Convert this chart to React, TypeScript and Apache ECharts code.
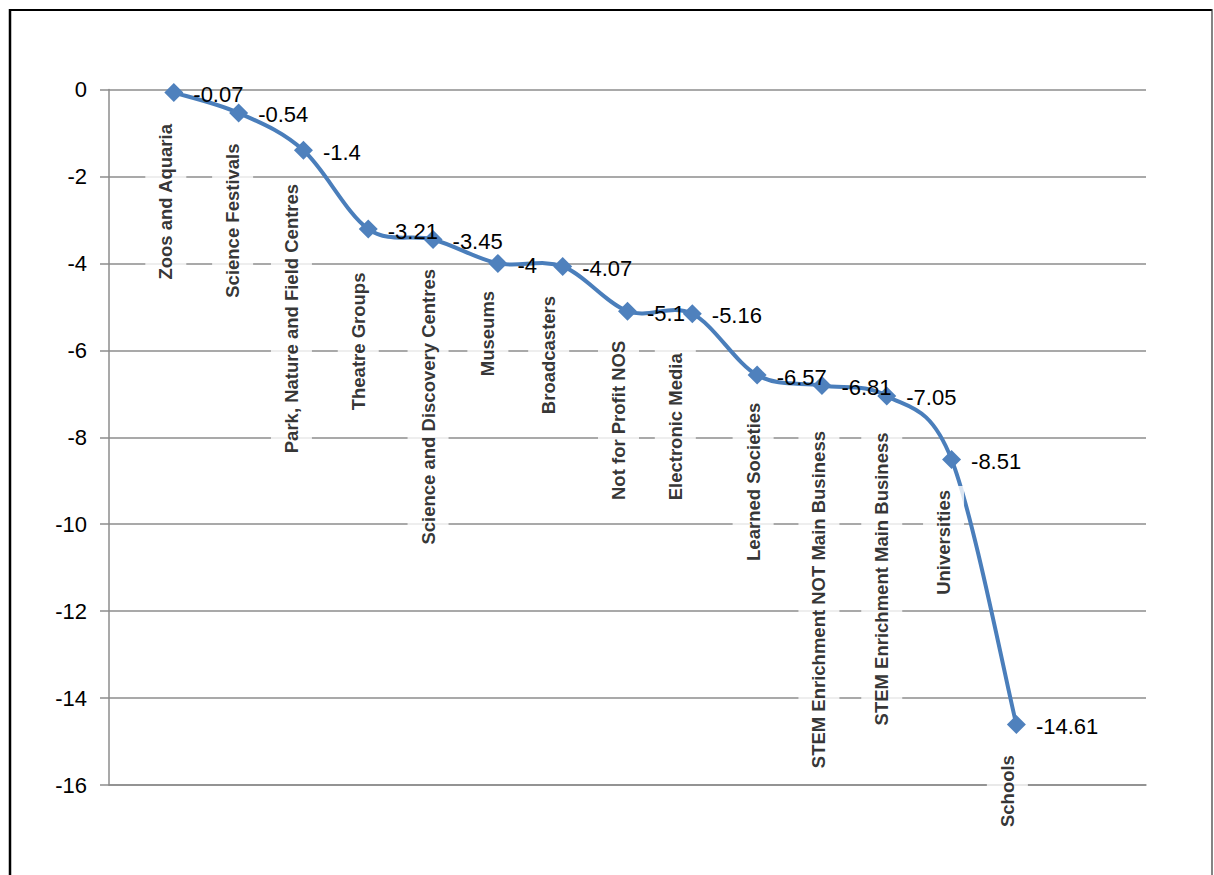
import React, { useEffect, useRef } from "react";
import * as echarts from "echarts";

const categories: string[] = [
  "Zoos and Aquaria",
  "Science Festivals",
  "Park, Nature and Field Centres",
  "Theatre Groups",
  "Science and Discovery Centres",
  "Museums",
  "Broadcasters",
  "Not for Profit NOS",
  "Electronic Media",
  "Learned Societies",
  "STEM Enrichment NOT Main Business",
  "STEM Enrichment Main Business",
  "Universities",
  "Schools",
];

const values: number[] = [
  -0.07, -0.54, -1.4, -3.21, -3.45, -4, -4.07, -5.1, -5.16, -6.57, -6.81, -7.05, -8.51, -14.61,
];

const yTicks = { min: -16, max: 0, interval: 2 };

// label placement tweaks (style only): drop below point and horizontal shift of category labels
const labelDrop: number[] = [31, 30, 33, 43, 29, 27, 29, 29, 39, 27, 45, 36, 30, 30];
const labelShift: number[] = [-8, -6, -12, -10, -5, -10, -14, -9, -17, -4, -3, -5, -8, -9];

const FONT = "'Liberation Sans', Arial, sans-serif";
const LINE_COLOR = "#4A7EBB";
const MARK_COLOR = "#4F81BD";

export default function App() {
  const ref = useRef<HTMLDivElement>(null);

  useEffect(() => {
    document.body.style.margin = "0";
    if (!ref.current) return;
    const chart = echarts.init(ref.current, undefined, { renderer: "svg" });

    const points = values.map((v, i) => [i + 1, v]);
    const pad = 4;
    const n = values.length;

    chart.setOption({
      animation: false,
      backgroundColor: "#fff",
      grid: { left: 109, top: 89.5, right: 68, bottom: 90 },
      xAxis: {
        type: "value",
        min: 0,
        max: categories.length + 2,
        axisLine: { show: true, onZero: false, lineStyle: { color: "#8c8c8c", width: 1.5 } },
        axisTick: { show: false },
        axisLabel: { show: false },
        splitLine: { show: false },
      },
      yAxis: {
        type: "value",
        min: yTicks.min,
        max: yTicks.max,
        interval: yTicks.interval,
        axisLine: { show: true, lineStyle: { color: "#8c8c8c", width: 1.5 } },
        axisTick: { show: true, length: 9, lineStyle: { color: "#8c8c8c", width: 1.5 } },
        axisLabel: { fontSize: 22, color: "#000", fontFamily: FONT, margin: 22 },
        splitLine: { show: true, lineStyle: { color: "#8c8c8c", width: 1.5 } },
      },
      graphic: [
        { type: "line", shape: { x1: 9, y1: 10, x2: 1212, y2: 10 }, style: { stroke: "#000", lineWidth: 2 } },
        { type: "line", shape: { x1: 10, y1: 9, x2: 10, y2: 880 }, style: { stroke: "#000", lineWidth: 2.5 } },
        { type: "line", shape: { x1: 1212, y1: 9, x2: 1212, y2: 880 }, style: { stroke: "#333", lineWidth: 1.2 } },
      ],
      series: [
        {
          type: "custom",
          data: points,
          z: 2,
          renderItem: (params: any, api: any) => {
            const i = params.dataIndex;
            if (i >= n - 1) return null;
            const P = (k: number) => {
              const kk = Math.max(0, Math.min(n - 1, k));
              return api.coord([kk + 1, values[kk]]);
            };
            const p0 = P(i - 1);
            const p1 = P(i);
            const p2 = P(i + 1);
            const p3 = P(i + 2);
            const t = 1 / 6;
            return {
              type: "bezierCurve",
              shape: {
                x1: p1[0],
                y1: p1[1],
                cpx1: p1[0] + (p2[0] - p0[0]) * t,
                cpy1: p1[1] + (p2[1] - p0[1]) * t,
                cpx2: p2[0] - (p3[0] - p1[0]) * t,
                cpy2: p2[1] - (p3[1] - p1[1]) * t,
                x2: p2[0],
                y2: p2[1],
              },
              style: { stroke: LINE_COLOR, lineWidth: 4, fill: null, lineCap: "round" },
            };
          },
        },
        {
          type: "scatter",
          data: points,
          symbol: "diamond",
          symbolSize: 19,
          itemStyle: { color: MARK_COLOR, opacity: 1 },
          label: {
            show: true,
            position: "right",
            distance: 10,
            offset: [0, 2],
            fontSize: 22,
            color: "#000",
            fontFamily: FONT,
            formatter: (p: any) => String(p.value[1]),
          },
          z: 3,
        },
        {
          type: "scatter",
          data: points.map((pt, i) => ({
            value: pt,
            label: { distance: labelDrop[i] - pad, offset: [0, labelShift[i]] },
          })),
          symbolSize: 1,
          itemStyle: { color: "rgba(0,0,0,0)" },
          label: {
            show: true,
            position: "bottom",
            rotate: 90,
            align: "right",
            verticalAlign: "middle",
            fontSize: 18.5,
            fontWeight: "bold",
            color: "#000",
            fontFamily: FONT,
            backgroundColor: "#fff",
            padding: [11, pad],
            formatter: (p: any) => categories[p.dataIndex],
          },
          z: 4,
        },
      ],
    });

    return () => chart.dispose();
  }, []);

  return <div ref={ref} style={{ width: 1214, height: 875 }} />;
}
